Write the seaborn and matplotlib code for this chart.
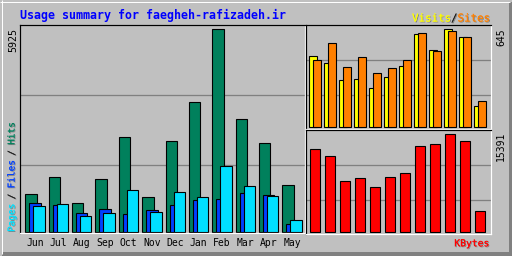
import numpy as np
import pandas as pd
import matplotlib
matplotlib.use("Agg")
import matplotlib.pyplot as plt
import matplotlib.patheffects as pe
from matplotlib.patches import Rectangle
import seaborn as sns

# ---------------- data ----------------
months = ["Jun", "Jul", "Aug", "Sep", "Oct", "Nov", "Dec", "Jan", "Feb", "Mar", "Apr", "May"]
hits = [1111, 1608, 848, 1549, 2777, 1023, 2651, 3800, 5925, 3303, 2593, 1374]
files = [848, 780, 555, 672, 526, 634, 789, 927, 965, 1140, 1082, 234]
pages = [760, 818, 468, 555, 1228, 585, 1169, 1023, 1929, 1345, 1052, 351]
visits = [469, 423, 311, 318, 259, 331, 403, 614, 509, 645, 594, 140]
sites = [441, 555, 397, 463, 357, 390, 443, 621, 502, 634, 594, 173]
kbytes = [13083, 11983, 8057, 8528, 7115, 8685, 9313, 13554, 13868, 15391, 14339, 3345]
title = "Usage summary for faegheh-rafizadeh.ir"
max_hits_label = "5925"
max_visits_label = "645"
max_kbytes_label = "15391"

# ---------------- style ----------------
BG = "#C0C0C0"
GRID = "#808080"
C_HITS, C_FILES, C_PAGES = "#00805C", "#0040FF", "#00E0FF"
C_VISITS, C_SITES, C_KB = "#FFFF00", "#FF8000", "#FF0000"
MONO = "DejaVu Sans Mono"
W, H, DPI = 512, 256, 100
PX = 72.0 / DPI  # one pixel in points

fig = plt.figure(figsize=(W / DPI, H / DPI), dpi=DPI, facecolor=BG)

# overlay in pixel coordinates for frame & labels
ov = fig.add_axes([0, 0, 1, 1])
ov.set_xlim(0, W)
ov.set_ylim(H, 0)
ov.axis("off")
ov.set_zorder(0)
# 3D outer frame
ov.plot([0, W - 2], [1.5, 1.5], color="white", lw=PX, solid_capstyle="butt")
ov.plot([1.5, 1.5], [0, H - 2], color="white", lw=PX, solid_capstyle="butt")
ov.add_patch(Rectangle((W - 3.5, 2), 3.5, H - 2, color="#808080", lw=0))
ov.add_patch(Rectangle((2, H - 4), W - 2, 4, color="#808080", lw=0))
ov.plot([W - 0.5, W - 0.5], [0, H], color="black", lw=PX)
ov.plot([0, W], [H - 0.5, H - 0.5], color="black", lw=PX)


def px_axes(x0, y0, x1, y1):
    ax = fig.add_axes([x0 / W, 1 - y1 / H, (x1 - x0) / W, (y1 - y0) / H])
    ax.set_facecolor(BG)
    ax.set_zorder(1)
    for s in ("left", "top"):
        ax.spines[s].set_color("black")
    for s in ("right", "bottom"):
        ax.spines[s].set_color("white")
    for s in ax.spines.values():
        s.set_linewidth(1.2 * PX)
    ax.set_axisbelow(True)
    return ax


def bars(ax, xpos, vals, width, color):
    sns.barplot(x=xpos, y=vals, native_scale=True, width=width, color=color,
                saturation=1, edgecolor="black", linewidth=1.1 * PX,
                errorbar=None, ax=ax)


idx = np.arange(len(months))
shadow = [pe.withSimplePatchShadow(offset=(0.9 * PX, -0.9 * PX), shadow_rgbFace="#808080", alpha=1), pe.Normal()]

# ---------------- main panel: hits / files / pages ----------------
ax = px_axes(20, 25, 304.5, 233)
unit = 23.37
bars(ax, idx, hits, 11.3 / unit, C_HITS)
bars(ax, idx + 4 / unit, files, 11.3 / unit, C_FILES)
bars(ax, idx + 8 / unit, pages, 11.3 / unit, C_PAGES)
ax.set_xlim(-11 / unit, (284.5 - 11) / unit)
k = max(hits) / 202.7
ax.set_ylim(-1 * k, max(hits) + 4.3 * k)
ax.set_yticks([max(hits) * 0.329, max(hits) * 0.674])
ax.yaxis.grid(True, color=GRID, lw=1.3 * PX)
ax.tick_params(axis="y", length=0, labelleft=False)
ax.set_xticks(idx + 4 / unit, months)
ax.tick_params(axis="x", length=0, pad=3.4, labelsize=7, labelcolor="black")
for t in ax.get_xticklabels():
    t.set_fontfamily(MONO)
ax.set_xlabel("")
ax.set_ylabel("")

# ---------------- right top: visits / sites ----------------
ax2 = px_axes(305.5, 25, 491, 129.3)
u2 = 15.0
bars(ax2, idx, visits, 8 / u2, C_VISITS)
bars(ax2, idx + 3.4 / u2, sites, 8 / u2, C_SITES)
ax2.set_xlim(-7.8 / u2, (185.5 - 7.8) / u2)
k2 = max(visits) / 98.0
ax2.set_ylim(-1.9 * k2, max(visits) + 4.3 * k2)
ax2.set_yticks([max(visits) * 0.327, max(visits) * 0.684])
ax2.yaxis.grid(True, color=GRID, lw=1.3 * PX)
ax2.tick_params(length=0, labelleft=False, labelbottom=False)
ax2.set_xlabel("")
ax2.set_ylabel("")

# ---------------- right bottom: kbytes ----------------
ax3 = px_axes(305.5, 130, 491, 234.3)
bars(ax3, idx, kbytes, 9.3 / u2, C_KB)
ax3.set_xlim(-9.5 / u2, (185.5 - 9.5) / u2)
k3 = max(kbytes) / 98.0
ax3.set_ylim(-2 * k3, max(kbytes) + 4.3 * k3)
ax3.set_yticks([max(kbytes) * 0.327, max(kbytes) * 0.684])
ax3.yaxis.grid(True, color=GRID, lw=1.3 * PX)
ax3.tick_params(length=0, labelleft=False, labelbottom=False)
ax3.set_xlabel("")
ax3.set_ylabel("")

# ---------------- texts ----------------
ov.text(20, 19, title, color="#0000FF", fontsize=8.4, fontfamily=MONO,
        fontweight="bold", ha="left", va="baseline")

cw = 6.5
x0 = 490 - 12 * cw
ov.text(x0, 21.5, "Visits", color=C_VISITS, fontsize=7.8, fontfamily=MONO,
        va="baseline", ha="left", path_effects=shadow)
ov.text(x0 + 6 * cw, 21.5, "/", color="#202020", fontsize=7.8, fontfamily=MONO,
        va="baseline", ha="left", path_effects=shadow)
ov.text(x0 + 7 * cw, 21.5, "Sites", color=C_SITES, fontsize=7.8, fontfamily=MONO,
        va="baseline", ha="left", path_effects=shadow)

ov.text(13, 28, max_hits_label, rotation=90, ha="center", va="top",
        fontsize=7.2, fontfamily=MONO, color="black")
ov.text(501, 28, max_visits_label, rotation=90, ha="center", va="top",
        fontsize=7, fontfamily=MONO, color="black")
ov.text(501, 132, max_kbytes_label, rotation=90, ha="center", va="top",
        fontsize=7, fontfamily=MONO, color="black")

# vertical legend "Pages / Files / Hits"
lc = 5.45
ybot = 232
for i0, txt, col in [(0, "Pages", C_PAGES), (6, "/", "#202020"), (8, "Files", C_FILES),
                     (14, "/", "#202020"), (16, "Hits", C_HITS)]:
    ov.text(12, ybot - i0 * lc, txt, rotation=90, ha="center", va="bottom",
            fontsize=6.8, fontfamily=MONO, color=col, path_effects=shadow)

ov.text(489.5, 246.3, "KBytes", color=C_KB, fontsize=7, fontfamily=MONO,
        ha="right", va="baseline", path_effects=shadow)

fig.savefig("out.png", dpi=DPI, facecolor=BG)
